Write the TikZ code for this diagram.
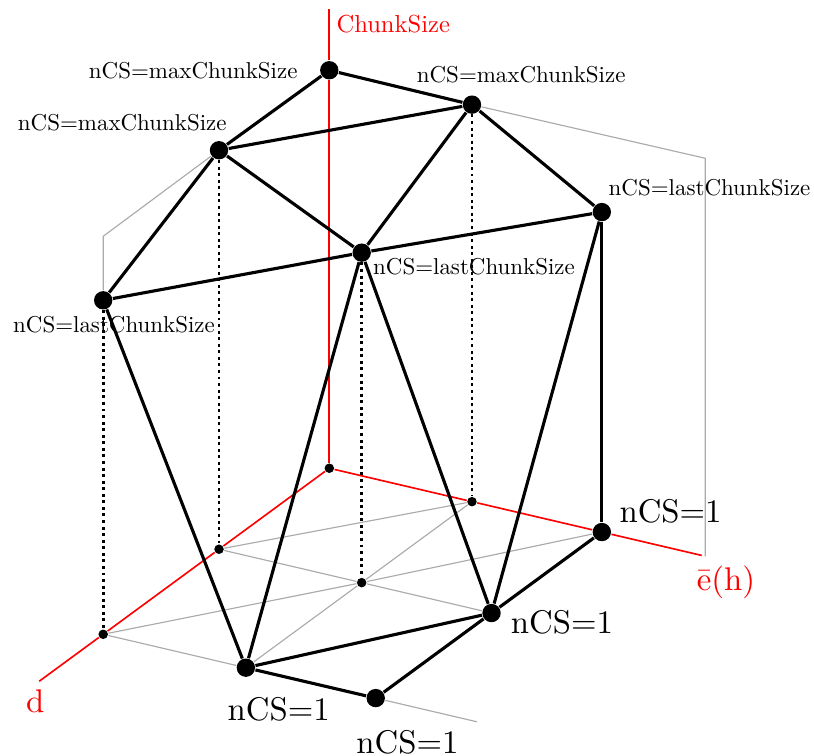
\documentclass[tikz,border=0pt]{standalone}
\usetikzlibrary{positioning}
\definecolor{axisred}{HTML}{FF0000}
\definecolor{gridgray}{HTML}{ABABAB}
\newcommand{\shrink}[2]{\scalebox{#1}{#2}}

\begin{document}
\begin{tikzpicture}[
    x={(-1.182cm,-0.868cm)},y={(1.529cm,-0.358cm)},z={(0cm,1.0716cm)},
    axis/.style={draw=axisred,line width=0.5pt},
    grid/.style={draw=gridgray,line width=0.35pt},
    proj/.style={line width=0.9pt,dash pattern=on 0.9pt off 1.1pt},
    edge/.style={line width=0.95pt},
    bigdot/.style={circle,fill=black,inner sep=0pt,minimum size=5.6pt},
    smalldot/.style={circle,fill=black,inner sep=0pt,minimum size=2.9pt},
    lbl/.style={inner sep=0pt},
    one/.style={inner sep=0pt}]
  \useasboundingbox (-3.529cm,-3.083cm) rectangle (5.194cm,5.018cm);

  % Axis ends and the helper corners of the grey frame.
  \coordinate (csTop) at (0,0,4.59);
  \coordinate (dEnd) at (2.63,0,0);
  \coordinate (eEnd) at (0,2.61,0);
  \coordinate (gL) at (2.05,0,3.98);
  \coordinate (gR) at (0,2.635,3.98);
  \coordinate (gRb) at (0,2.635,0);
  \coordinate (gB) at (2.05,2.62,0);

  % Feet on the base plane.
  \node[smalldot] (p00) at (0,0,0) {};
  \node[smalldot] (p10) at (1,0,0) {};
  \node[smalldot] (p01) at (0,1,0) {};
  \node[smalldot] (p11) at (1,1,0) {};
  \node[smalldot] (p20) at (2.05,0,0) {};

  % Upper points: maxChunkSize and lastChunkSize.
  \node[bigdot] (m00) at (0,0,3.98) {};
  \node[bigdot] (m01) at (0,1,3.97) {};
  \node[bigdot] (m10) at (1,0,3.99) {};
  \node[bigdot] (l02) at (0,1.91,3.20) {};
  \node[bigdot] (l11) at (1,1,3.30) {};
  \node[bigdot] (l20) at (2.05,0,3.34) {};

  % Lower points with nCS=1.
  \node[bigdot] (b02) at (0,1.91,0) {};
  \node[bigdot] (b12) at (1,1.91,0) {};
  \node[bigdot] (b21) at (2.05,1,0) {};
  \node[bigdot] (b22) at (2.05,1.91,0) {};

  % Grey grid on the base and frame lines.
  \draw[grid] (p10) -- (p01);
  \draw[grid] (p20) -- (p11) -- (b02);
  \draw[grid] (p10) -- (p11) -- (b12);
  \draw[grid] (b21) -- (p11) -- (p01);
  \draw[grid] (p20) -- (b21);
  \draw[grid] (b22) -- (gB);
  \draw[grid] (m10) -- (gL) -- (l20);
  \draw[grid] (m01) -- (gR) -- (gRb);

  % Axes.
  \draw[axis] (p00) -- (m00) -- (csTop);
  \draw[axis] (p00) -- (p10) -- (p20) -- (dEnd);
  \draw[axis] (p00) -- (p01) -- (b02) -- (eEnd);

  % Drop lines.
  \draw[proj] (m10) -- (p10);
  \draw[proj] (l20) -- (p20);
  \draw[proj] (l11) -- (p11);
  \draw[proj] (m01) -- (p01);

  % Surface edges.
  \draw[edge] (m00) -- (m10);
  \draw[edge] (m00) -- (m01);
  \draw[edge] (m10) -- (m01);
  \draw[edge] (m10) -- (l20);
  \draw[edge] (m10) -- (l11);
  \draw[edge] (m01) -- (l11);
  \draw[edge] (m01) -- (l02);
  \draw[edge] (l20) -- (l11);
  \draw[edge] (l11) -- (l02);
  \draw[edge] (l20) -- (b21);
  \draw[edge] (l11) -- (b21);
  \draw[edge] (l11) -- (b12);
  \draw[edge] (l02) -- (b12);
  \draw[edge] (l02) -- (b02);
  \draw[edge] (b02) -- (b12);
  \draw[edge] (b12) -- (b21);
  \draw[edge] (b21) -- (b22);
  \draw[edge] (b22) -- (b12);

  % Labels.
  \node[lbl,text=axisred,anchor=north west] (tCS) at ([shift={(2pt,-1.7pt)}]csTop) {\shrink{0.75}{ChunkSize}};
  \node[one,text=axisred,below=2.4pt of dEnd,xshift=-1.2pt] (tD) {d};
  \node[one,text=axisred,below=2.9pt of eEnd,xshift=7.4pt] (tE) {\=e(h)};
  \node[lbl,left=9.5pt of m00.center] (tM00) {\shrink{0.7}{nCS=maxChunkSize}};
  \node[lbl,above=6.4pt of m01.center,xshift=15pt] (tM01) {\shrink{0.7}{nCS=maxChunkSize}};
  \node[lbl,above=5.6pt of m10.center,xshift=-29.5pt] (tM10) {\shrink{0.7}{nCS=maxChunkSize}};
  \node[lbl,above right=4.7pt and 1.9pt of l02.center] (tL02) {\shrink{0.7}{nCS=lastChunkSize}};
  \node[lbl,below right=1.5pt and 3.3pt of l11.center] (tL11) {\shrink{0.7}{nCS=lastChunkSize}};
  \node[lbl,below=4.6pt of l20.center,xshift=3.3pt] (tL20) {\shrink{0.7}{nCS=lastChunkSize}};
  \node[one,above right=2.5pt and 5.2pt of b02.center] (tB02) {nCS=1};
  \node[one,below right=-1pt and 5.7pt of b12.center] (tB12) {nCS=1};
  \node[one,below=8.9pt of b21.center,xshift=10pt] (tB21) {nCS=1};
  \node[one,below=9.7pt of b22.center,xshift=9.7pt] (tB22) {nCS=1};
\end{tikzpicture}
\end{document}
